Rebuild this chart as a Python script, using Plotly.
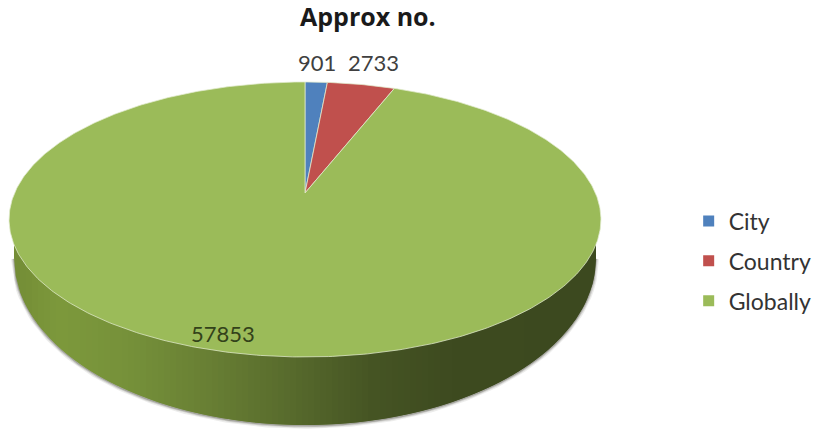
import numpy as np
import plotly.graph_objects as go

categories = ["City", "Country", "Globally"]
values = [901, 2733, 57853]
colors = ["#4f81bd", "#c0504d", "#9bbb59"]
title_text = "Approx no."

FONT = "Lato"
W, H = 815, 429
# perspective disc geometry, in axis units of a 815x429 canvas
APEX_X, APEX_Y = 305.0, 193.0
R, S, K = 290.4, 132.4, 0.1926


def project(theta):
    """Map clockwise-from-top pie angle onto the tilted disc."""
    u, v = np.sin(theta), np.cos(theta)
    d = 1 + K * v
    return APEX_X + R * u / d, APEX_Y - S * v / d


def ramp(x):
    stops_x = [14, 60, 130, 210, 290, 370, 450, 596]
    stops_c = [(116, 141, 54), (125, 153, 60), (118, 145, 58), (104, 127, 52),
               (88, 107, 45), (70, 85, 36), (62, 75, 32), (60, 73, 31)]
    return "rgb(%d,%d,%d)" % tuple(
        int(np.interp(x, stops_x, [c[i] for c in stops_c])) for i in range(3)
    )


def lower_top(x):
    return 219.5 + 138 * np.sqrt(np.clip(1 - ((x - 305) / 296) ** 2, 0, 1))


def lower_bottom(x):
    return 258 + 167 * np.sqrt(np.clip(1 - ((x - 305) / 291) ** 2, 0, 1))


fig = go.Figure()

# soft contact shadow below the rim
xs = np.linspace(14, 596, 240)
for width, alpha in [(6, 0.10), (3.5, 0.18), (1.5, 0.30)]:
    fig.add_trace(go.Scatter(x=xs, y=lower_bottom(xs) + 0.8, mode="lines", showlegend=False,
                             hoverinfo="skip",
                             line=dict(color="rgba(70,70,60,%g)" % alpha, width=width)))

# shaded rim of the large slice: drawn left to right, each band overlapping the next
edges = np.linspace(14, 596, 98)
for a in edges[:-1]:
    x = np.linspace(a, min(a + 12, 596), 8)
    px = np.r_[x, x[::-1]]
    py = np.r_[lower_top(x) - 3, lower_bottom(x[::-1])]
    c = ramp(a + 3)
    fig.add_trace(go.Scatter(x=px, y=py, mode="lines", fill="toself", fillcolor=c, showlegend=False,
                             hoverinfo="skip", line=dict(width=0)))

# top face
total = sum(values)
start = 0.0
for name, val, col in zip(categories, values, colors):
    end = start + val / total * 2 * np.pi
    t = np.linspace(start, end, max(12, int((end - start) * 90)))
    ex, ey = project(t)
    fig.add_trace(go.Scatter(x=np.r_[APEX_X, ex, APEX_X], y=np.r_[APEX_Y, ey, APEX_Y],
                             mode="lines", fill="toself", fillcolor=col, showlegend=False,
                             hoverinfo="skip", line=dict(color="rgba(225,235,205,0.75)", width=1)))
    start = end

# legend
for name, col in zip(categories, colors):
    fig.add_trace(go.Scatter(x=[None], y=[None], mode="markers", name=name, legendgroup=name,
                             marker=dict(symbol="square", size=11, color=col)))

# data labels
label_pos = [(317, 62), (373, 62), (223, 333)]
label_col = ["#404040", "#404040", "#33421a"]
for val, (lx, ly), lc in zip(values, label_pos, label_col):
    fig.add_annotation(x=lx, y=ly, text=str(val), showarrow=False,
                       font=dict(family=FONT, size=22, color=lc))

fig.add_annotation(x=368, y=16, text="<b>%s</b>" % title_text, showarrow=False,
                   font=dict(family="Open Sans", size=25, color="#1a1a1a"))

fig.update_layout(
    width=W, height=H, margin=dict(l=0, r=0, t=0, b=0, autoexpand=False),
    paper_bgcolor="white", plot_bgcolor="white",
    xaxis=dict(range=[0, W], visible=False, fixedrange=True),
    yaxis=dict(range=[H, 0], visible=False, fixedrange=True),
    legend=dict(x=0.845, y=0.535, yanchor="top", xanchor="left", bgcolor="rgba(0,0,0,0)",
                font=dict(family=FONT, size=23, color="#333333"),
                tracegroupgap=7, itemwidth=30),
)

fig.write_html("out.html", post_script="document.body.style.margin='0';",
               config={"displayModeBar": False})
